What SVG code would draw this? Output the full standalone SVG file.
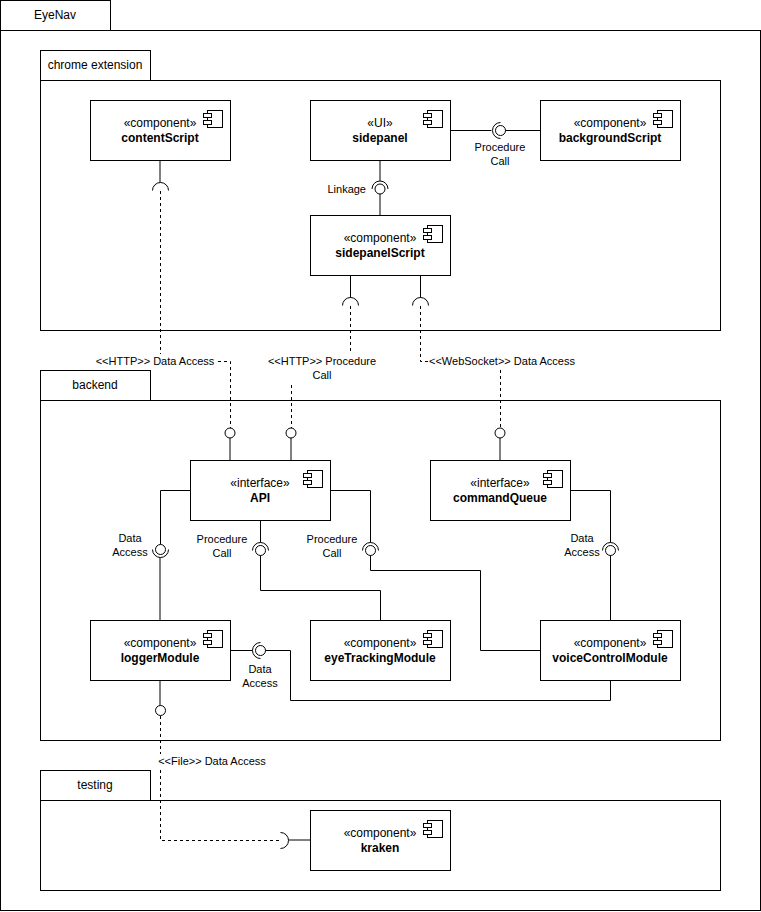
<svg xmlns="http://www.w3.org/2000/svg" width="761" height="912" viewBox="0 0 761 912">
<defs>
<style>
.frame{fill:#fff;stroke:#000;stroke-width:1}
.box{fill:#fff;stroke:#000;stroke-width:1}
.ln{fill:none;stroke:#000;stroke-width:1}
.dash{fill:none;stroke:#000;stroke-width:1;stroke-dasharray:3 3}
.ball{fill:#fff;stroke:#000;stroke-width:1}
.t{font-family:"Liberation Sans",Arial,sans-serif;font-size:12px;fill:#000;text-anchor:middle}
.b{font-weight:bold}
.lbl{font-family:"Liberation Sans",Arial,sans-serif;font-size:11px;fill:#000;text-anchor:middle}
.bg{fill:#fff;stroke:none}
</style>
<g id="icon">
<rect x="-22.5" y="10.5" width="15" height="17" class="box"/>
<rect x="-26.5" y="13.5" width="8" height="4" class="box"/>
<rect x="-26.5" y="20.5" width="8" height="4" class="box"/>
</g>
</defs>
<rect width="761" height="912" fill="#fff"/>

<g id="frame-eyenav">
<rect x="0.5" y="30.5" width="760" height="880" class="frame"/>
<rect x="0.5" y="0.5" width="110" height="30" class="frame"/>
<text x="55" y="19" class="t">EyeNav</text>
</g>
<g id="frame-chrome">
<rect x="40.5" y="80.5" width="680" height="250" class="frame"/>
<rect x="40.5" y="50.5" width="110" height="30" class="frame"/>
<text x="95" y="69" class="t">chrome extension</text>
</g>
<g id="frame-backend">
<rect x="40.5" y="400.5" width="680" height="340" class="frame"/>
<rect x="40.5" y="370.5" width="110" height="30" class="frame"/>
<text x="95" y="389" class="t">backend</text>
</g>
<g id="frame-testing">
<rect x="40.5" y="800.5" width="680" height="90" class="frame"/>
<rect x="40.5" y="770.5" width="110" height="30" class="frame"/>
<text x="95" y="789" class="t">testing</text>
</g>

<g id="connectors">
<!-- sidepanel - backgroundScript -->
<path d="M450.5 130.5 H491.5" class="ln"/>
<path d="M500.5 122.5 A8 8 0 0 0 500.5 138.5" class="ln"/>
<circle cx="500.5" cy="130.5" r="5" class="ball"/>
<path d="M505.5 130.5 H540.5" class="ln"/>
<text x="500" y="150.5" class="lbl">Procedure</text>
<text x="500" y="164.5" class="lbl">Call</text>

<!-- Linkage -->
<path d="M380 160.5 V181" class="ln"/>
<path d="M372 189 A8 8 0 0 1 388 189" class="ln"/>
<circle cx="380" cy="189" r="5" class="ball"/>
<path d="M380 194 V215.5" class="ln"/>
<text x="366" y="193" class="lbl" style="text-anchor:end">Linkage</text>

<!-- contentScript -> API (HTTP Data Access) -->
<path d="M160 160.5 V182.5" class="ln"/>
<path d="M152.5 190.5 A8 8 0 0 1 168.5 190.5" class="ln"/>
<path d="M160.5 191 V361.5 H230.5 V428" class="dash"/>
<circle cx="230" cy="433" r="5" class="ball"/>
<path d="M230 438 V460.5" class="ln"/>
<rect x="95" y="354" width="120" height="14" class="bg"/>
<text x="155" y="364.5" class="lbl">&lt;&lt;HTTP&gt;&gt; Data Access</text>

<!-- sidepanelScript -> API (HTTP Procedure Call) -->
<path d="M350.5 275.5 V297.5" class="ln"/>
<path d="M342.5 305.5 A8 8 0 0 1 358.5 305.5" class="ln"/>
<path d="M350.5 306 V367.5 H291.5 V428" class="dash"/>
<circle cx="291" cy="433" r="5" class="ball"/>
<path d="M291 438 V460.5" class="ln"/>
<rect x="267" y="354" width="111" height="28" class="bg"/>
<text x="322" y="364.5" class="lbl">&lt;&lt;HTTP&gt;&gt; Procedure</text>
<text x="322" y="378.5" class="lbl">Call</text>

<!-- sidepanelScript -> commandQueue (WebSocket) -->
<path d="M420.5 275.5 V297.5" class="ln"/>
<path d="M412.5 305.5 A8 8 0 0 1 428.5 305.5" class="ln"/>
<path d="M420.5 306 V361.5 H500.5 V428" class="dash"/>
<circle cx="500" cy="433" r="5" class="ball"/>
<path d="M500 438 V460.5" class="ln"/>
<rect x="428" y="354" width="148" height="14" class="bg"/>
<text x="502" y="365" class="lbl">&lt;&lt;WebSocket&gt;&gt; Data Access</text>

<!-- API -> loggerModule -->
<path d="M190.5 490.5 H160.5 V544.5" class="ln"/>
<circle cx="160.5" cy="549.5" r="5" class="ball"/>
<path d="M152.5 549.5 A8 8 0 0 0 168.5 549.5" class="ln"/>
<path d="M160 557.5 V620.5" class="ln"/>
<text x="130" y="542" class="lbl">Data</text>
<text x="130" y="556" class="lbl">Access</text>

<!-- API -> eyeTrackingModule -->
<path d="M260.5 520.5 V542.5" class="ln"/>
<path d="M252.5 550.5 A8 8 0 0 1 268.5 550.5" class="ln"/>
<circle cx="260.5" cy="550.5" r="5" class="ball"/>
<path d="M260.5 555.5 V590.5 H380.5 V620.5" class="ln"/>
<text x="222" y="543" class="lbl">Procedure</text>
<text x="222" y="557" class="lbl">Call</text>

<!-- API -> voiceControlModule -->
<path d="M330.5 490.5 H370.5 V542.5" class="ln"/>
<path d="M362.5 550.5 A8 8 0 0 1 378.5 550.5" class="ln"/>
<circle cx="370.5" cy="550.5" r="5" class="ball"/>
<path d="M370.5 555.5 V570.5 H480.5 V650.5 H540.5" class="ln"/>
<text x="332" y="543" class="lbl">Procedure</text>
<text x="332" y="557" class="lbl">Call</text>

<!-- commandQueue -> voiceControlModule -->
<path d="M570.5 490.5 H610.5 V542.5" class="ln"/>
<path d="M602.5 550.5 A8 8 0 0 1 618.5 550.5" class="ln"/>
<circle cx="610.5" cy="550.5" r="5" class="ball"/>
<path d="M610.5 555.5 V620.5" class="ln"/>
<text x="582" y="542" class="lbl">Data</text>
<text x="582" y="556" class="lbl">Access</text>

<!-- voiceControlModule -> loggerModule -->
<path d="M230.5 650.5 H252.5" class="ln"/>
<path d="M260.5 642.5 A8 8 0 0 0 260.5 658.5" class="ln"/>
<circle cx="260.5" cy="650.5" r="5" class="ball"/>
<path d="M265.5 650.5 H290.5 V700.5 H610.5 V680.5" class="ln"/>
<text x="260" y="673" class="lbl">Data</text>
<text x="260" y="687" class="lbl">Access</text>

<!-- loggerModule -> kraken (File) -->
<path d="M160 680.5 V705.5" class="ln"/>
<circle cx="160.5" cy="710.5" r="5" class="ball"/>
<path d="M160.5 716 V840.5 H280.5" class="dash"/>
<path d="M280.5 832.5 A8 8 0 0 1 280.5 848.5" class="ln"/>
<path d="M288.5 840 H310.5" class="ln"/>
<rect x="158" y="754" width="108" height="14" class="bg"/>
<text x="212" y="765" class="lbl">&lt;&lt;File&gt;&gt; Data Access</text>
</g>

<g id="contentScript">
<rect x="90.5" y="100.5" width="140" height="60" class="box"/>
<use href="#icon" x="230" y="100"/>
<text x="160" y="127" class="t">«component»</text>
<text x="160" y="142" class="t b">contentScript</text>
</g>
<g id="sidepanel">
<rect x="310.5" y="100.5" width="140" height="60" class="box"/>
<use href="#icon" x="450" y="100"/>
<text x="380" y="127" class="t">«UI»</text>
<text x="380" y="142" class="t b">sidepanel</text>
</g>
<g id="backgroundScript">
<rect x="540.5" y="100.5" width="140" height="60" class="box"/>
<use href="#icon" x="680" y="100"/>
<text x="610" y="127" class="t">«component»</text>
<text x="610" y="142" class="t b">backgroundScript</text>
</g>
<g id="sidepanelScript">
<rect x="310.5" y="215.5" width="140" height="60" class="box"/>
<use href="#icon" x="450" y="215"/>
<text x="380" y="242" class="t">«component»</text>
<text x="380" y="257" class="t b">sidepanelScript</text>
</g>
<g id="API">
<rect x="190.5" y="460.5" width="140" height="60" class="box"/>
<use href="#icon" x="330" y="460"/>
<text x="260" y="487" class="t">«interface»</text>
<text x="260" y="502" class="t b">API</text>
</g>
<g id="commandQueue">
<rect x="430.5" y="460.5" width="140" height="60" class="box"/>
<use href="#icon" x="570" y="460"/>
<text x="500" y="487" class="t">«interface»</text>
<text x="500" y="502" class="t b">commandQueue</text>
</g>
<g id="loggerModule">
<rect x="90.5" y="620.5" width="140" height="60" class="box"/>
<use href="#icon" x="230" y="620"/>
<text x="160" y="647" class="t">«component»</text>
<text x="160" y="662" class="t b">loggerModule</text>
</g>
<g id="eyeTrackingModule">
<rect x="310.5" y="620.5" width="140" height="60" class="box"/>
<use href="#icon" x="450" y="620"/>
<text x="380" y="647" class="t">«component»</text>
<text x="380" y="662" class="t b">eyeTrackingModule</text>
</g>
<g id="voiceControlModule">
<rect x="540.5" y="620.5" width="140" height="60" class="box"/>
<use href="#icon" x="680" y="620"/>
<text x="610" y="647" class="t">«component»</text>
<text x="610" y="662" class="t b">voiceControlModule</text>
</g>
<g id="kraken">
<rect x="310.5" y="810.5" width="140" height="60" class="box"/>
<use href="#icon" x="450" y="810"/>
<text x="380" y="837" class="t">«component»</text>
<text x="380" y="852" class="t b">kraken</text>
</g>
</svg>
